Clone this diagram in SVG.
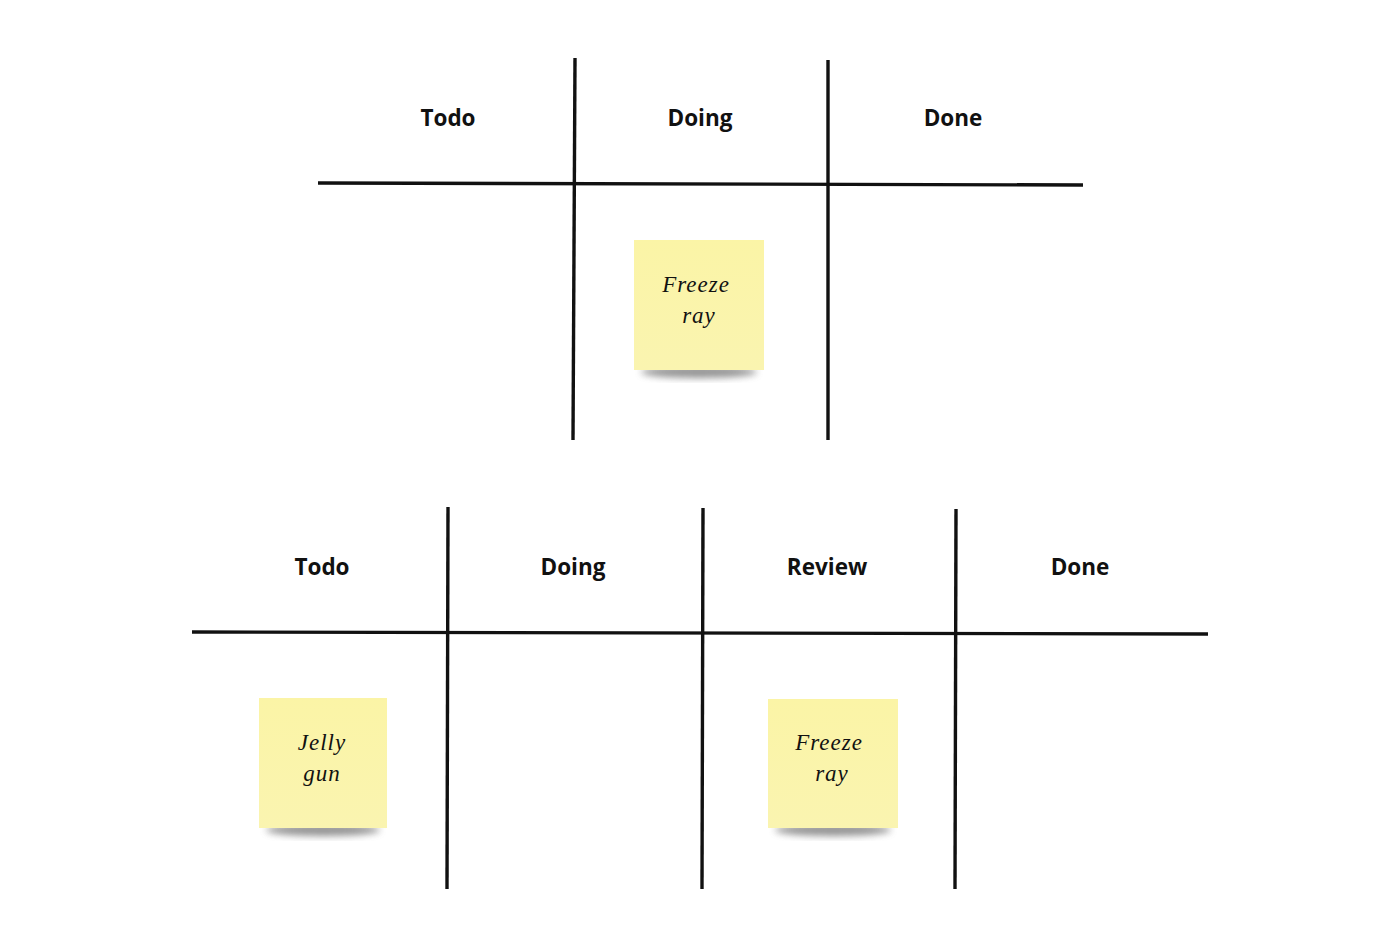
<svg xmlns="http://www.w3.org/2000/svg" width="1400" height="950" viewBox="0 0 1400 950">
<style>
.ln{stroke:#111;stroke-width:3.4;fill:none;stroke-linecap:butt}
.hd{font-family:"Open Sans","Noto Sans",sans-serif;font-weight:700;font-size:22.5px;fill:#111;text-anchor:middle}
.hw{font-family:"Liberation Serif",serif;font-style:italic;font-size:23px;fill:#111;text-anchor:middle;letter-spacing:1px}
.note{fill:url(#ng)}
</style>
<defs>
<linearGradient id="ng" x1="0" y1="0" x2="0" y2="1">
<stop offset="0" stop-color="#fbf4a6"/>
<stop offset="1" stop-color="#faf4b0"/>
</linearGradient>
<filter id="sh" x="-20%" y="-20%" width="140%" height="160%">
<feGaussianBlur stdDeviation="3.5"/>
</filter>
</defs>
<rect width="1400" height="950" fill="#fff"/>
<g id="connectors">
<path class="ln" d="M318 183 L1083 185"/>
<path class="ln" d="M575 58 L573 440"/>
<path class="ln" d="M828 60 L828 440"/>
<path class="ln" d="M192 632 L1208 634"/>
<path class="ln" d="M448 507 L447 889"/>
<path class="ln" d="M703 508 L702 889"/>
<path class="ln" d="M956 509 L955 889"/>
</g>
<g id="top-headers">
<text class="hd" x="448" y="126">Todo</text>
<text class="hd" x="700" y="126">Doing</text>
<text class="hd" x="953" y="126">Done</text>
</g>
<g id="bottom-headers">
<text class="hd" x="322" y="575">Todo</text>
<text class="hd" x="573" y="575">Doing</text>
<text class="hd" x="827" y="575">Review</text>
<text class="hd" x="1080" y="575">Done</text>
</g>
<g id="note-freeze-top">
<ellipse cx="699" cy="372" rx="58" ry="6" fill="#666" opacity="0.7" filter="url(#sh)"/>
<rect class="note" x="634" y="240" width="130" height="130"/>
<text class="hw" x="696" y="292">Freeze</text>
<text class="hw" x="699" y="323">ray</text>
</g>
<g id="note-jelly">
<ellipse cx="323" cy="830" rx="57" ry="6" fill="#666" opacity="0.7" filter="url(#sh)"/>
<rect class="note" x="259" y="698" width="128" height="130"/>
<text class="hw" x="322" y="750">Jelly</text>
<text class="hw" x="322" y="781">gun</text>
</g>
<g id="note-freeze-bottom">
<ellipse cx="833" cy="830" rx="58" ry="6" fill="#666" opacity="0.7" filter="url(#sh)"/>
<rect class="note" x="768" y="699" width="130" height="129"/>
<text class="hw" x="829" y="750">Freeze</text>
<text class="hw" x="832" y="781">ray</text>
</g>
</svg>
